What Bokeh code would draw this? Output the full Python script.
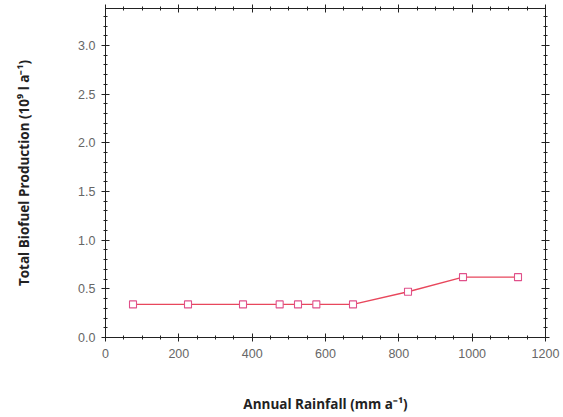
from bokeh.plotting import figure
from bokeh.models import LinearAxis, Range1d, FixedTicker, CustomJSTickFormatter
from bokeh.embed import file_html
from bokeh.resources import INLINE

rainfall = [75, 225, 375, 475, 525, 575, 675, 825, 975, 1125]
production = [0.34, 0.34, 0.34, 0.34, 0.34, 0.34, 0.34, 0.47, 0.62, 0.62]
x_ticks = [0, 200, 400, 600, 800, 1000, 1200]
y_ticks = [0.0, 0.5, 1.0, 1.5, 2.0, 2.5, 3.0]

p = figure(width=563, height=417, output_backend="svg", toolbar_location=None,
           x_range=Range1d(0, 1200), y_range=Range1d(0, 3.38),
           min_border_left=105, min_border_right=18, min_border_top=8, min_border_bottom=80)
p.grid.visible = False
p.outline_line_color = "#222222"
p.background_fill_color = "white"
p.border_fill_color = "white"

line_col = "#e8475c"
p.line(rainfall, production, line_color=line_col, line_width=1.3)
p.scatter(rainfall, production, marker="square", size=7, fill_color="white",
          line_color="#e0508a", line_width=1.1)

def style(ax, labels=True):
    ax.axis_line_color = "#222222"
    ax.major_tick_line_color = "#222222"
    ax.minor_tick_line_color = "#222222"
    ax.major_tick_in = 4
    ax.major_tick_out = 4
    ax.minor_tick_in = 2
    ax.minor_tick_out = 2
    ax.major_label_text_font = "Liberation Sans"
    ax.major_label_text_font_size = "12.5px"
    ax.major_label_text_color = "#666666"
    if not labels:
        ax.major_label_text_font_size = "0px"
        ax.major_label_text_alpha = 0

xa = p.xaxis[0]
xa.ticker = FixedTicker(ticks=x_ticks, minor_ticks=list(range(0, 1201, 50)))
xa.axis_label = "Annual Rainfall (mm a\u207b\u00b9)"
xa.axis_label_standoff = 34
style(xa)
xa.major_label_standoff = 7

ya = p.yaxis[0]
ya.ticker = FixedTicker(ticks=y_ticks, minor_ticks=[i / 10 for i in range(0, 34)])
ya.formatter = CustomJSTickFormatter(code="return tick.toFixed(1);")
ya.axis_label = "Total Biofuel Production (10\u2079 l a\u207b\u00b9)"
ya.axis_label_standoff = 42
style(ya)
ya.major_label_standoff = 6

for ax in (xa, ya):
    ax.axis_label_text_font = "Open Sans"
    ax.axis_label_text_font_style = "bold"
    ax.axis_label_text_font_size = "13.5px"
    ax.axis_label_text_color = "#222222"

top = LinearAxis(ticker=FixedTicker(ticks=x_ticks, minor_ticks=list(range(0, 1201, 50))))
style(top, labels=False)
p.add_layout(top, "above")
right = LinearAxis(ticker=FixedTicker(ticks=y_ticks, minor_ticks=[i / 10 for i in range(0, 34)]))
style(right, labels=False)
p.add_layout(right, "right")

open("out.html", "w").write(file_html(p, INLINE))
